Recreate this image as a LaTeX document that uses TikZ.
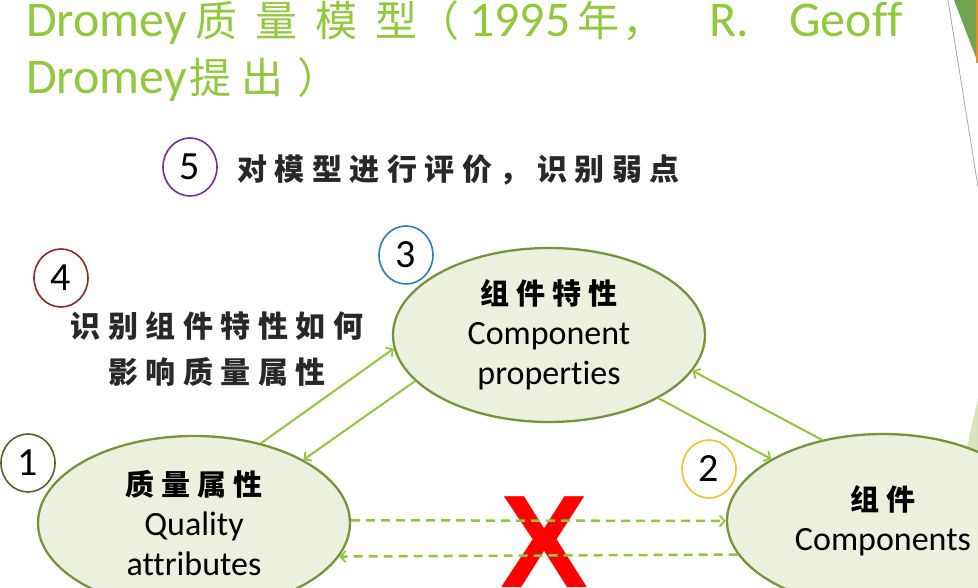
\documentclass[tikz,border=0pt]{standalone}
\usepackage{fontspec}
\setmainfont{Carlito}[Ligatures={NoCommon}]
\newfontfamily\cjk{Noto Sans CJK SC}
\newfontfamily\kaifont[LetterSpace=25]{Noto Sans CJK SC}
\newfontfamily\xfont{Liberation Sans}
\usetikzlibrary{shapes.geometric,arrows.meta}
\definecolor{titlegreen}{RGB}{146,200,62}
\definecolor{arrowgreen}{RGB}{146,196,64}
\definecolor{ellfill}{RGB}{235,241,222}
\definecolor{elldraw}{RGB}{119,147,60}
\definecolor{kaigray}{RGB}{40,40,40}
\definecolor{cone}{RGB}{79,98,40}
\definecolor{ctwo}{RGB}{240,192,48}
\definecolor{cthree}{RGB}{46,125,182}
\definecolor{cfour}{RGB}{140,40,40}
\definecolor{cfive}{RGB}{112,48,160}
\definecolor{decogreen}{RGB}{112,165,80}
\definecolor{decolight}{RGB}{216,228,188}
\definecolor{decoorange}{RGB}{230,140,40}
\newcommand{\tzh}[1]{{\fontsize{42}{50}\cjk #1}}
\newcommand{\kzh}[1]{{\fontsize{29}{40}\kaifont\bfseries #1}}
\begin{document}
\begin{tikzpicture}[x=1pt,y=-1pt,
  ell/.style={ellipse, draw=elldraw, fill=ellfill, line width=2.3pt,
    minimum width=312pt, minimum height=174pt, inner sep=0pt, align=center,
    font=\fontsize{34}{40}\selectfont},
  numc/.style={ellipse, draw=#1, line width=1.6pt, minimum width=54pt,
    minimum height=58pt, inner sep=0pt, font=\fontsize{40}{40}\selectfont},
  kaitext/.style={text=kaigray, font=\fontsize{30}{46}\kaifont\bfseries, inner sep=0pt},
  conn/.style={draw=arrowgreen, line width=2pt,
    -{Straight Barb[length=5pt,width=11pt,line width=1.8pt]}},
  dconn/.style={conn, line width=2.5pt, dash pattern=on 9pt off 6pt}]
\useasboundingbox (0,0) rectangle (978,588);
\clip (0,0) rectangle (978,588);
% right edge decoration
\fill[decogreen] (954,0) -- (978,0) -- (978,63) -- cycle;
\fill[decoorange] (976,0) rectangle (978,63);
\draw[gray!70, line width=0.8pt] (948,0) -- (978,187);
\fill[decolight] (978,398) -- (966,452) -- (978,452) -- cycle;
% title
\node[anchor=base west, inner sep=0pt, text=titlegreen, font=\fontsize{50}{57}\selectfont] (title1) at (26,37)
  {Dromey\hskip8pt\tzh{质}\hskip18pt\tzh{量}\hskip18pt\tzh{模}\hskip18pt\tzh{型}\tzh{（}\hskip10pt 1995\hskip7pt\tzh{年}\hskip3pt\tzh{，}\hskip45pt R.\hskip40pt Geoff};
\node[anchor=base west, inner sep=0pt, text=titlegreen, font=\fontsize{50}{57}\selectfont] (title2) at (26,94)
  {Dromey\hskip2pt\tzh{提}\hskip10pt\tzh{出}\hskip14pt\tzh{）}};
% ellipses
\node[ell] (e3) at (549,335) {\kzh{组件特性}\\Component\\properties};
\node[ell] (e1) at (194,523) {\kzh{质量属性}\\Quality\\attributes};
\node[ell] (e2) at (883,521) {\kzh{组件}\\Components};
% number circles
\node[numc=cone] (n1) at (28,463) {1};
\node[numc=ctwo] (n2) at (709,469) {2};
\node[numc=cthree] (n3) at (406,255) {3};
\node[numc=cfour] (n4) at (61,278) {4};
\node[numc=cfive] (n5) at (190,167) {5};
% texts
\node[kaitext, anchor=west] (t5) at (237,170) {对模型进行评价，识别弱点};
\node[kaitext, align=center] (t4) at (217,349) {识别组件特性如何\\影响质量属性};
% red X
\node[anchor=base, inner sep=0pt, text=red, font=\fontsize{132}{132}\xfont\bfseries] (xmark) at (545,587) {X};
% connectors
\draw[conn] (e1.50) -- (e3.185);
\draw[conn] (e3.199) -- (e1.30);
\draw[conn] (e2.127) -- (e3.346);
\draw[conn] (e3.330) -- (e2.151);
\draw[dconn] (e1.1) -- (e2.180);
\draw[dconn] (e2.193) -- (e1.347);
\end{tikzpicture}
\end{document}
